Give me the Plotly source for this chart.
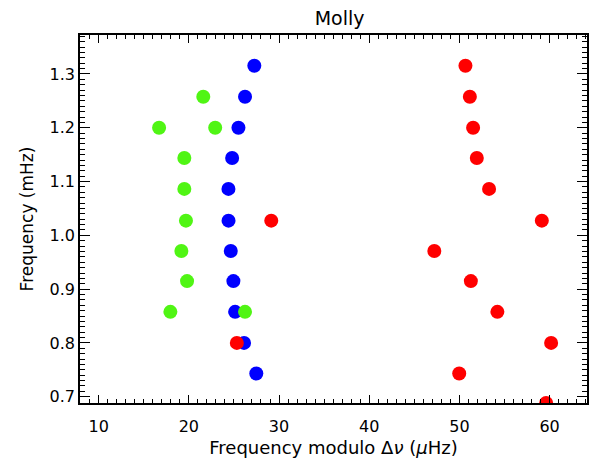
import plotly.graph_objects as go

# Data
blue_x = [27.26, 26.23, 25.5, 24.8, 24.39, 24.4, 24.65, 24.94, 25.13, 26.12, 27.48]
blue_y = [1.3154, 1.2578, 1.2, 1.1437, 1.0864, 1.0273, 0.9708, 0.9149, 0.8578, 0.8, 0.7431]

green_x = [21.6, 16.7, 22.92, 19.5, 19.5, 19.68, 19.17, 19.8, 17.95, 26.23]
green_y = [1.2578, 1.2, 1.2, 1.1437, 1.0864, 1.0273, 0.9708, 0.9149, 0.8578, 0.8578]

red_x = [50.67, 51.16, 51.52, 51.93, 53.29, 59.14, 29.14, 47.22, 51.27, 54.21, 60.17, 25.32, 49.98, 59.62]
red_y = [1.3154, 1.2578, 1.2, 1.1437, 1.0864, 1.0273, 1.0273, 0.9708, 0.9149, 0.8578, 0.8, 0.8, 0.7431, 0.6883]

x_ticks = [10, 20, 30, 40, 50, 60]
y_ticks = [0.7, 0.8, 0.9, 1.0, 1.1, 1.2, 1.3]

FONT = "DejaVu Sans"

fig = go.Figure()
for xs, ys, col in [(blue_x, blue_y, "rgb(0,0,255)"),
                    (green_x, green_y, "rgb(80,245,20)"),
                    (red_x, red_y, "rgb(255,0,0)")]:
    fig.add_trace(go.Scatter(x=xs, y=ys, mode="markers",
                             marker=dict(size=14, color=col, line=dict(width=0)),
                             showlegend=False, cliponaxis=True))

fig.update_layout(
    width=589, height=458,
    margin=dict(l=80, r=0, t=35, b=55),
    paper_bgcolor="white", plot_bgcolor="white",
    title=dict(text="Molly", x=0.512, xanchor="center", y=0.96, yanchor="middle",
               xref="paper", font=dict(family=FONT, size=19, color="black")),
    font=dict(family=FONT, color="black"),
)

fig.update_xaxes(
    range=[7.93, 64.15], tickvals=x_ticks, ticktext=[str(v) for v in x_ticks],
    ticks="inside", ticklen=8, tickwidth=1.2, tickcolor="black",
    minor=dict(ticks="inside", ticklen=4, dtick=1, tick0=0, tickcolor="black", tickwidth=1),
    showline=True, linecolor="black", linewidth=1.5, mirror="ticks",
    showgrid=False, zeroline=False, ticklabelstandoff=8,
    tickfont=dict(family=FONT, size=16, color="black"),
    title=dict(text="Frequency modulo Δ<i>ν</i> (<i>μ</i>Hz)",
               font=dict(family=FONT, size=18, color="black"), standoff=6),
)
fig.update_yaxes(
    range=[0.6883, 1.3725], tickvals=y_ticks, ticktext=["0.7", "0.8", "0.9", "1.0", "1.1", "1.2", "1.3"],
    ticks="inside", ticklen=10, tickwidth=1.2, tickcolor="black",
    minor=dict(ticks="inside", ticklen=5, dtick=0.01, tick0=0, tickcolor="black", tickwidth=1),
    showline=True, linecolor="black", linewidth=1.5, mirror="ticks",
    showgrid=False, zeroline=False,
    tickfont=dict(family=FONT, size=16, color="black"),
    title=dict(text="Frequency (mHz)",
               font=dict(family=FONT, size=17, color="black"), standoff=12),
)

fig.write_html("out.html")
